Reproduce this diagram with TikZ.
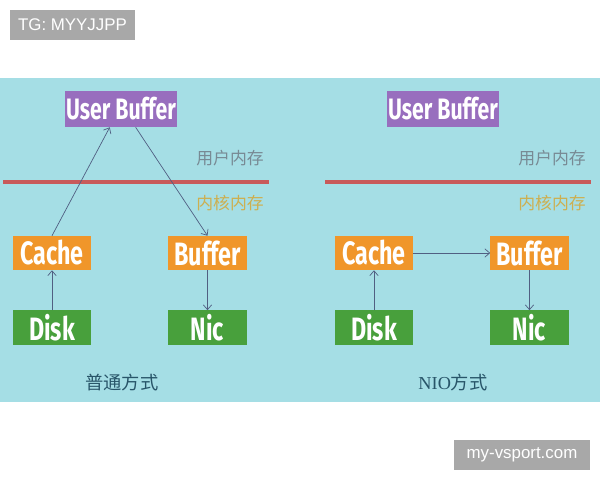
\documentclass[tikz,border=0pt]{standalone}
\usepackage{fontspec}
\setmainfont{Liberation Serif}
\newfontfamily\cjk{Noto Sans CJK SC}
\newfontfamily\badgefont{Liberation Sans}
\newfontfamily\boxfont[FakeStretch=0.72]{Fira Sans}
\usepackage{tikz}
\usetikzlibrary{calc, arrows.meta}

\definecolor{bgcyan}{RGB}{165,222,229}
\definecolor{ubpurple}{RGB}{152,110,190}
\definecolor{boxorange}{RGB}{240,150,42}
\definecolor{boxgreen}{RGB}{72,160,60}
\definecolor{linered}{RGB}{200,90,90}
\definecolor{usergray}{RGB}{120,138,148}
\definecolor{kernyellow}{RGB}{205,175,80}
\definecolor{arrowblue}{RGB}{80,95,130}
\definecolor{wayteal}{RGB}{40,85,105}
\definecolor{badgegray}{RGB}{168,168,168}

\begin{document}
\begin{tikzpicture}[x=0.025cm, y=-0.025cm,
  box/.style={minimum width=1.95cm, minimum height=0.85cm, inner sep=0pt, text=white,
    font=\boxfont\bfseries\fontsize{23}{23}\selectfont},
  memlbl/.style={font=\cjk\fontsize{12}{12}\selectfont, inner sep=0pt},
  waylbl/.style={font=\fontsize{13}{13}\selectfont, text=wayteal, inner sep=0pt},
  link/.style={-{Straight Barb[length=3.5pt, width=6pt]}, draw=arrowblue, line width=0.5pt},
  redline/.style={draw=linered, line width=2.3pt},
  badge/.style={fill=badgegray, text=white, minimum height=0.75cm, inner sep=0pt,
    font=\badgefont\fontsize{12}{12}\selectfont}]
\useasboundingbox (0,0) rectangle (600,480);

% Background
\fill[bgcyan] (0,78) rectangle (600,402);

% Boxes and memory split, both panels
\foreach \p/\dx in {a/0,b/322} {
    \node[box, fill=ubpurple, minimum width=2.8cm, minimum height=0.9cm,
          font=\boxfont\bfseries\fontsize{21}{21}\selectfont] (ub\p) at (121+\dx,109) {User Buffer};
    \node[memlbl, text=usergray] (um\p) at (230+\dx,158) {用户内存};
    \draw[redline] (3+\dx,182) -- (269+\dx,182);
    \node[memlbl, text=kernyellow] (km\p) at (230+\dx,203) {内核内存};
    \node[box, fill=boxorange] (cache\p) at (52+\dx,253) {Cache};
    \node[box, fill=boxorange] (buffer\p) at (207.5+\dx,253) {Buffer};
    \node[box, fill=boxgreen] (disk\p) at (52+\dx,327.5) {Disk};
    \node[box, fill=boxgreen] (nic\p) at (207.5+\dx,327.5) {Nic};
}

% Normal way
\draw[link] (cachea.north) -- ($(uba.south west)!0.4!(uba.south east)$);
\draw[link] ($(uba.south west)!0.63!(uba.south east)$) -- (buffera.north);
\draw[link] (diska) -- (cachea);
\draw[link] (buffera) -- (nica);
\node[waylbl] (waya) at (122,383) {\cjk 普通方式};

% NIO way
\draw[link] (cacheb) -- (bufferb);
\draw[link] (diskb) -- (cacheb);
\draw[link] (bufferb) -- (nicb);
\node[waylbl] (wayb) at (453,383) {NIO{\cjk 方式}};

% Badges
\node[badge, minimum width=3.125cm] (tg) at (72.5,25) {TG: MYYJJPP};
\node[badge, minimum width=3.4cm] (site) at (522,455) {my-vsport.com};
\end{tikzpicture}
\end{document}
